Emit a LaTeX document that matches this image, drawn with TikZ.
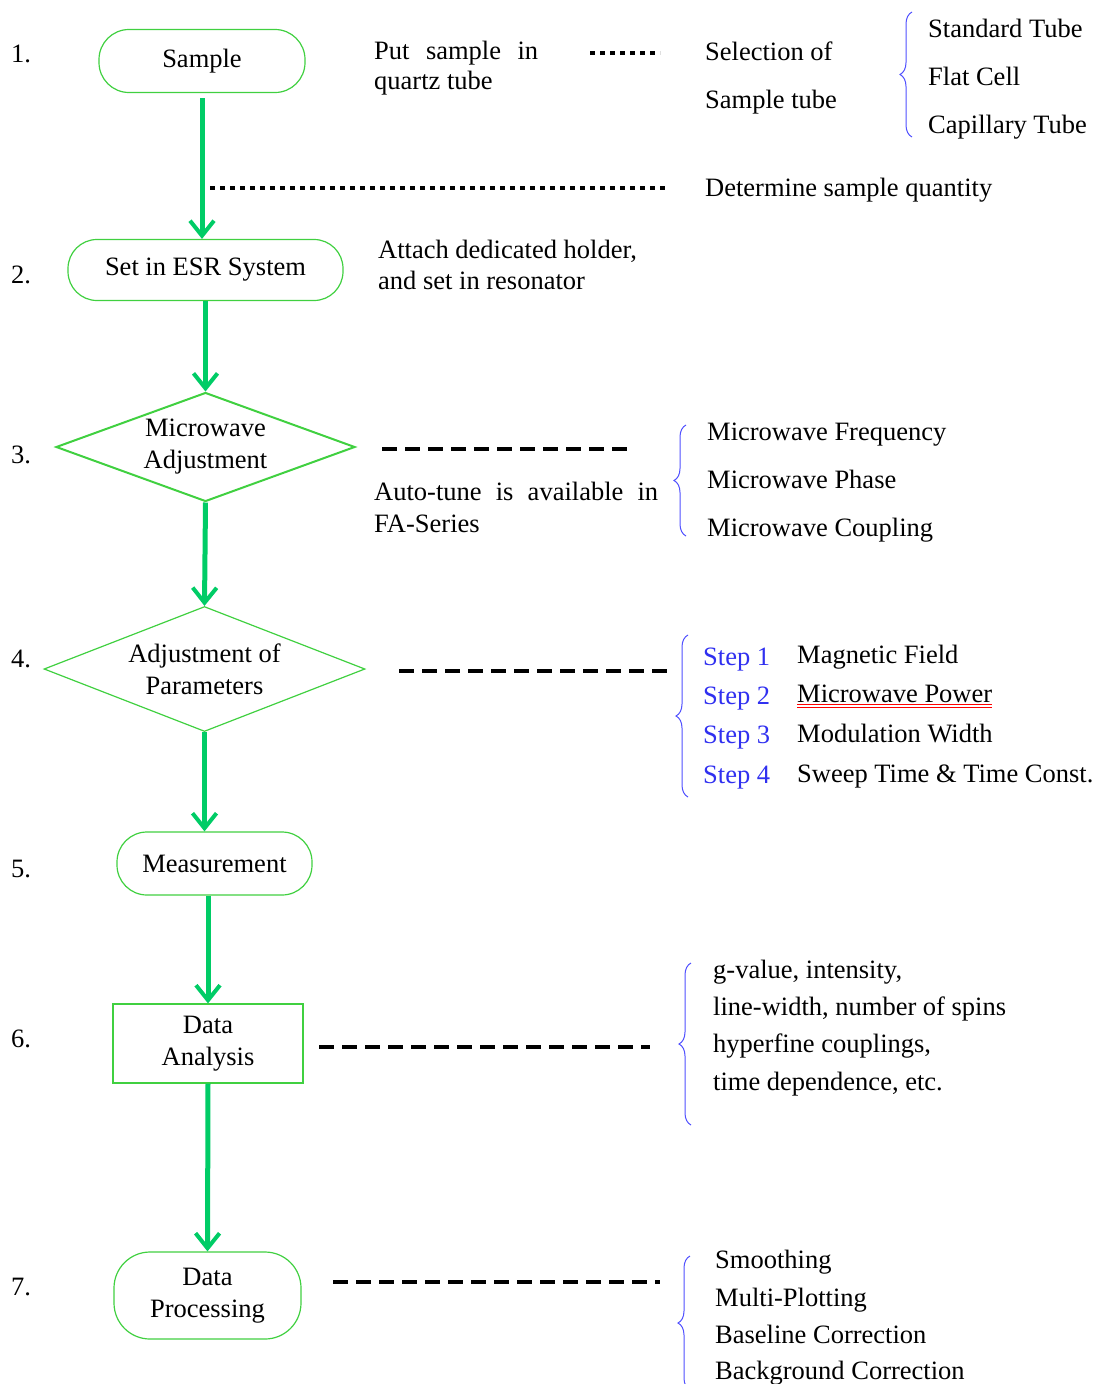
\documentclass[tikz,border=0pt]{standalone}
\usepackage{fontspec}
\setmainfont{Liberation Serif}
\usetikzlibrary{shapes.geometric,arrows.meta,decorations.pathreplacing}
\definecolor{flowgreen}{RGB}{0,204,102}
\definecolor{boxgreen}{RGB}{64,208,64}
\definecolor{bracebl}{RGB}{80,80,255}
\definecolor{stepblue}{RGB}{48,48,240}
\tikzset{
    flowbox/.style={draw=boxgreen, line width=1.2pt, align=center, inner sep=0pt},
    flowdiamond/.style={draw=boxgreen, line width=1.2pt, diamond, align=center, inner sep=0pt},
    flowarrow/.style={draw=flowgreen, line width=5pt,
        -{Straight Barb[length=15pt,width=24pt,line width=4pt]}},
    dotline/.style={line width=4.5pt, dash pattern=on 5pt off 5pt},
    dashline/.style={line width=4.5pt, dash pattern=on 15pt off 8pt},
    bluebrace/.style={draw=bracebl, line width=1pt, decorate,
        decoration={brace, amplitude=12pt}},
    txt/.style={anchor=base west, inner sep=0pt},
    steptxt/.style={txt, text=stepblue}
}
\begin{document}
\begin{tikzpicture}[x=1pt, y=-1pt, font=\fontsize{26.5}{32}\selectfont]
    \useasboundingbox (0,0) rectangle (1098,1384);
    % step numbers
    \foreach \num/\y in {1/62, 2/283, 3/463, 4/667, 5/877, 6/1047, 7/1295} {
        \node[txt] (num\num) at (11,\y) {\num.};
    }
    % flow chart
    \node[flowbox, rounded corners=30pt, minimum width=206pt, minimum height=63pt]
        (sample) at (202,61) {Sample};
    \node[flowbox, rounded corners=29pt, minimum width=275pt, minimum height=61pt]
        (esr) at (205.5,270) {Set in ESR System};
    \node[flowdiamond, line width=2pt, minimum width=299pt, minimum height=109pt, aspect=2.7]
        (madj) at (205.5,447) {Microwave\\Adjustment};
    \node[flowdiamond, minimum width=321pt, minimum height=125pt, aspect=2.55]
        (aparam) at (204.5,669) {Adjustment of\\Parameters};
    \node[flowbox, rounded corners=30pt, minimum width=195pt, minimum height=63pt]
        (meas) at (214.5,863.5) {Measurement};
    \node[flowbox, minimum width=190pt, minimum height=79pt]
        (danal) at (208,1043.5) {Data\\Analysis};
    \node[flowbox, rounded corners=36pt, minimum width=187pt, minimum height=87pt]
        (dproc) at (207.5,1295.5) {Data\\Processing};

    \draw[flowarrow, shorten <=5pt] (sample.south) -- (sample.south |- esr.north);
    \draw[flowarrow] (esr.south) -- (madj.north);
    \draw[flowarrow] (madj.south) -- (aparam.north);
    \draw[flowarrow] (aparam.south) -- (aparam.south |- meas.north);
    \draw[flowarrow] (danal.north |- meas.south) -- (danal.north);
    \draw[flowarrow] (danal.south) -- (dproc.north);

    % step 1
    \node[txt] (put1) at (374,59) {\makebox[164pt][s]{Put sample in}};
    \node[txt] (put2) at (374,89) {quartz tube};
    \coordinate (dot1a) at (590,53);
    \coordinate (dot1b) at (660,53);
    \draw[dotline] (dot1a) -- (dot1b);
    \node[txt] (sel1) at (705,60) {Selection of};
    \node[txt] (sel2) at (705,108) {Sample tube};
    \draw[bluebrace] (912,137) -- (912,12);
    \node[txt] (tube1) at (928,37) {Standard Tube};
    \node[txt] (tube2) at (928,85) {Flat Cell};
    \node[txt] (tube3) at (928,133) {Capillary Tube};
    \coordinate (dot2a) at (210,188);
    \coordinate (dot2b) at (668,188);
    \draw[dotline] (dot2a) -- (dot2b);
    \node[txt] (quant) at (705,196) {Determine sample quantity};

    % step 2
    \node[txt] (att1) at (378,258) {Attach dedicated holder,};
    \node[txt] (att2) at (378,289) {and set in resonator};

    % step 3
    \coordinate (dash3a) at (382,449);
    \coordinate (dash3b) at (632,449);
    \draw[dashline] (dash3a) -- (dash3b);
    \node[txt] (auto1) at (374,500) {\makebox[284pt][s]{Auto-tune is available in}};
    \node[txt] (auto2) at (374,532) {FA-Series};
    \draw[bluebrace] (686,536) -- (686,425);
    \node[txt] (mw1) at (707,440) {Microwave Frequency};
    \node[txt] (mw2) at (707,488) {Microwave Phase};
    \node[txt] (mw3) at (707,536) {Microwave Coupling};

    % step 4
    \coordinate (dash4a) at (399,671);
    \coordinate (dash4b) at (668,671);
    \draw[dashline] (dash4a) -- (dash4b);
    \draw[bluebrace] (688,797) -- (688,635);
    \node[steptxt] (st1) at (703,665) {Step 1};
    \node[steptxt] (st2) at (703,704) {Step 2};
    \node[steptxt] (st3) at (703,743) {Step 3};
    \node[steptxt] (st4) at (703,783) {Step 4};
    \node[txt] (par1) at (797,663) {Magnetic Field};
    \node[txt] (par2) at (797,702) {Microwave Power};
    \node[txt] (par3) at (797,742) {Modulation Width};
    \node[txt] (par4) at (797,782) {Sweep Time \& Time Const.};
    \draw[red, line width=0.8pt] ([yshift=-2.5pt]par2.base west) -- ([yshift=-2.5pt]par2.base east);
    \draw[red, line width=0.8pt] ([yshift=-5pt]par2.base west) -- ([yshift=-5pt]par2.base east);

    % step 6
    \coordinate (dash6a) at (319,1047);
    \coordinate (dash6b) at (650,1047);
    \draw[dashline] (dash6a) -- (dash6b);
    \draw[bluebrace] (691,1125) -- (691,963);
    \node[txt] (res1) at (713,978) {g-value, intensity,};
    \node[txt] (res2) at (713,1015) {line-width, number of spins};
    \node[txt] (res3) at (713,1052) {hyperfine couplings,};
    \node[txt] (res4) at (713,1090) {time dependence, etc.};

    % step 7
    \coordinate (dash7a) at (333,1282);
    \coordinate (dash7b) at (660,1282);
    \draw[dashline] (dash7a) -- (dash7b);
    \draw[bluebrace] (690,1390) -- (690,1256);
    \node[txt] (proc1) at (715,1268) {Smoothing};
    \node[txt] (proc2) at (715,1306) {Multi-Plotting};
    \node[txt] (proc3) at (715,1343) {Baseline Correction};
    \node[txt] (proc4) at (715,1379) {Background Correction};
\end{tikzpicture}
\end{document}
